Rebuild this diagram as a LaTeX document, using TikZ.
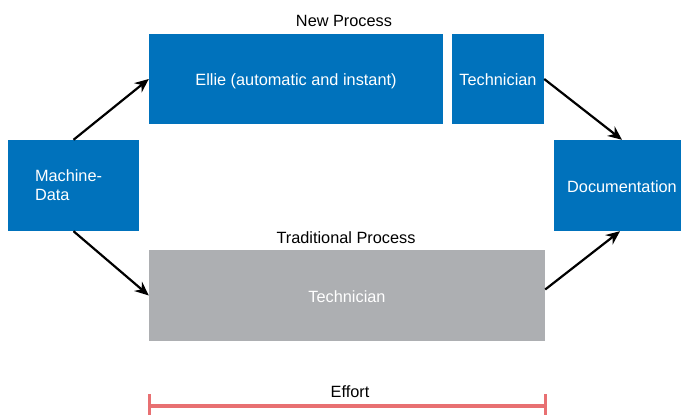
\documentclass[tikz,border=0pt]{standalone}
\usepackage{fontspec}
\setmainfont{Liberation Sans}
\usetikzlibrary{arrows.meta}
\definecolor{boxblue}{RGB}{0,114,188}
\definecolor{boxgrey}{RGB}{173,175,178}
\definecolor{effortred}{RGB}{232,112,114}
\begin{document}
\begin{tikzpicture}[x=1pt,y=-1pt,
  bluebox/.style={fill=boxblue,draw=none,text=white,inner sep=0pt,font=\fontsize{16.3}{19}\selectfont},
  greybox/.style={fill=boxgrey,draw=none,text=white,inner sep=0pt,font=\fontsize{16.3}{19}\selectfont},
  oneline/.style={text height=13pt,text depth=0pt},
  lbl/.style={text=black,inner sep=0pt,font=\fontsize{16.3}{19}\selectfont},
  flow/.style={draw=black,line width=2.2pt,-{Stealth[length=14pt,width=12pt]}},
  effort/.style={draw=effortred,line width=4pt}]
\clip (0,0) rectangle (681,415);
\useasboundingbox (0,0) rectangle (681,415);
\node[bluebox,minimum width=131pt,minimum height=91pt,text width=77pt,align=left] (md) at (73.5,185.5) {Machine-\\Data};
\node[bluebox,oneline,minimum width=294pt,minimum height=90pt] (ellie) at (296,79) {Ellie (automatic and instant)};
\node[bluebox,oneline,minimum width=92pt,minimum height=90pt] (tech1) at (498,79) {Technician};
\node[bluebox,oneline,minimum width=136pt,minimum height=91pt] (doc) at (622,185.5) {Documentation};
\node[greybox,oneline,minimum width=396pt,minimum height=91pt] (trad) at (347,295.5) {Technician};
\node[lbl] (newp) at (344,20.5) {New Process};
\node[lbl] (tradp) at (346,237.5) {Traditional Process};
\node[lbl] (eff) at (350,391.5) {Effort};
\draw[flow] (md.north) -- (ellie.west);
\draw[flow] (tech1.east) -- (doc.north);
\draw[flow] (md.south) -- (trad.west);
\draw[flow] ([yshift=6pt]trad.east) -- ([xshift=-2pt]doc.south);
\coordinate (e1) at (149,406);
\coordinate (e2) at (545,406);
\draw[effort] (e1) -- (e2);
\draw[effortred,line width=3pt] ([yshift=-13pt]e1) -- ([yshift=12pt]e1);
\draw[effortred,line width=3pt] ([yshift=-13pt]e2) -- ([yshift=12pt]e2);
\end{tikzpicture}
\end{document}
